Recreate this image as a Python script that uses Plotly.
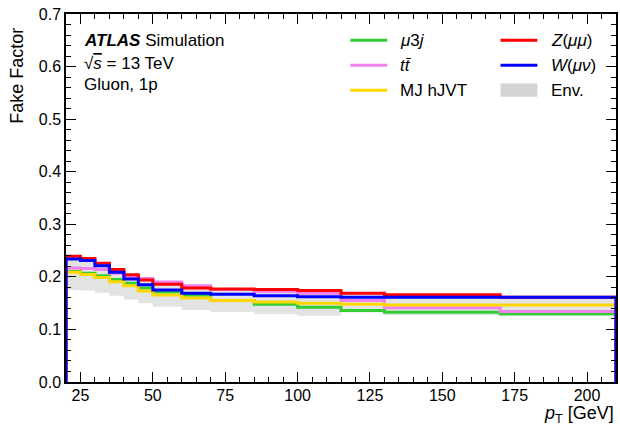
import plotly.graph_objects as go

# pT bin edges [GeV]
bin_edges = [20, 25, 30, 35, 40, 45, 50, 60, 70, 85, 100, 115, 130, 170, 210]

# fake factors per pT bin
ff_mu3j = [0.210, 0.207, 0.202, 0.195, 0.188, 0.179, 0.171, 0.165, 0.155, 0.148, 0.142, 0.136, 0.1325, 0.1295]
ff_ttbar = [0.217, 0.216, 0.214, 0.207, 0.200, 0.197, 0.190, 0.183, 0.176, 0.172, 0.169, 0.155, 0.141, 0.134]
ff_mj_hjvt = [0.209, 0.2045, 0.199, 0.1905, 0.183, 0.173, 0.1655, 0.160, 0.155, 0.152, 0.150, 0.148, 0.1465, 0.1465]
ff_zmumu = [0.239, 0.235, 0.226, 0.214, 0.204, 0.194, 0.186, 0.179, 0.177, 0.176, 0.174, 0.169, 0.166, 0.161]
ff_wmunu = [0.234, 0.231, 0.221, 0.209, 0.196, 0.185, 0.175, 0.169, 0.167, 0.164, 0.162, 0.161, 0.161, 0.161]

# lower edge of the envelope band
env_low = [0.175, 0.174, 0.170, 0.164, 0.157, 0.150, 0.143, 0.137, 0.133, 0.129, 0.126, 0.132, 0.1275, 0.129]

x_ticks = [25, 50, 75, 100, 125, 150, 175, 200]
y_ticks = [0.0, 0.1, 0.2, 0.3, 0.4, 0.5, 0.6, 0.7]

FONT = "Liberation Sans, Arial, Helvetica, sans-serif"


def step_from_zero(edges, vals):
    """Histogram outline (step) that drops to zero at both ends."""
    xs = [edges[0]] + list(edges) + [edges[-1]]
    ys = [0.0] + list(vals) + [vals[-1], 0.0]
    return xs, ys


def step_band(edges, vals):
    xs = list(edges)
    ys = list(vals) + [vals[-1]]
    return xs, ys


env_high = [max(v) for v in zip(ff_mu3j, ff_ttbar, ff_mj_hjvt, ff_zmumu, ff_wmunu)]

fig = go.Figure()

band_color = "rgb(226,227,227)"
xl, yl = step_band(bin_edges, env_low)
xh, yh = step_band(bin_edges, env_high)
fig.add_trace(go.Scatter(x=xl, y=yl, mode="lines", line=dict(width=0, shape="hv"),
                         showlegend=False, hoverinfo="skip"))
fig.add_trace(go.Scatter(x=xh, y=yh, mode="lines", line=dict(width=0, shape="hv"),
                         fill="tonexty", fillcolor=band_color, showlegend=False, hoverinfo="skip"))

series = [
    (ff_mu3j, "rgb(50,205,50)"),
    (ff_ttbar, "rgb(238,130,238)"),
    (ff_mj_hjvt, "rgb(255,215,0)"),
    (ff_zmumu, "rgb(255,0,0)"),
    (ff_wmunu, "rgb(0,0,255)"),
]
for vals, col in series:
    xs, ys = step_from_zero(bin_edges, vals)
    fig.add_trace(go.Scatter(x=xs, y=ys, mode="lines", line=dict(color=col, width=3, shape="hv"),
                             showlegend=False, hoverinfo="skip"))

# legend drawn in paper coordinates (two columns)
legend_rows = [0.929, 0.861, 0.793]
legend_items = [
    ("line", "rgb(50,205,50)", "<i>μ</i>3<i>j</i>", 0, 0),
    ("line", "rgb(238,130,238)", "<i>tt̄</i>", 0, 1),
    ("line", "rgb(255,215,0)", "MJ hJVT", 0, 2),
    ("line", "rgb(255,0,0)", "<i>Z</i>(<i>μμ</i>)", 1, 0),
    ("line", "rgb(0,0,255)", "<i>W</i>(<i>μν</i>)", 1, 1),
    ("box", "rgb(212,212,212)", "Env.", 1, 2),
]
col_x = [(0.517, 0.584, 0.604), (0.790, 0.857, 0.879)]
shapes = []
annotations = []
for kind, col, label, c, r in legend_items:
    x0, x1, xt = col_x[c]
    yy = legend_rows[r]
    if kind == "line":
        shapes.append(dict(type="line", xref="paper", yref="paper", x0=x0, x1=x1, y0=yy, y1=yy,
                           line=dict(color=col, width=3)))
    else:
        shapes.append(dict(type="rect", xref="paper", yref="paper", x0=x0, x1=x1,
                           y0=yy - 0.018, y1=yy + 0.018, line=dict(width=0), fillcolor=col))
    annotations.append(dict(text=label, xref="paper", yref="paper", x=xt, y=yy,
                            xanchor="left", yanchor="middle", showarrow=False,
                            font=dict(size=17, color="black", family=FONT)))

# ATLAS label block
annotations += [
    dict(text="<b><i>ATLAS</i></b> Simulation", xref="paper", yref="paper", x=0.029, y=0.929,
         xanchor="left", yanchor="middle", showarrow=False, font=dict(size=17, color="black", family=FONT)),
    dict(text="√<span style='text-decoration:overline'><i>s</i></span> = 13 TeV", xref="paper", yref="paper",
         x=0.029, y=0.866, xanchor="left", yanchor="middle", showarrow=False,
         font=dict(size=17, color="black", family=FONT)),
    dict(text="Gluon, 1p", xref="paper", yref="paper", x=0.029, y=0.808,
         xanchor="left", yanchor="middle", showarrow=False, font=dict(size=17, color="black", family=FONT)),
    # axis titles
    dict(text="Fake Factor", xref="paper", yref="paper", x=-0.089, y=0.968, textangle=-90,
         xanchor="center", yanchor="top", showarrow=False, font=dict(size=18, color="black", family=FONT)),
    dict(text="<i>p</i><sub>T</sub> [GeV]", xref="paper", yref="paper", x=1.0, y=-0.088,
         xanchor="right", yanchor="middle", showarrow=False, font=dict(size=18, color="black", family=FONT)),
]

axis_common = dict(showline=True, linecolor="black", linewidth=1.5, mirror="allticks",
                   ticks="inside", ticklen=10, tickwidth=1.3, tickcolor="black",
                   showgrid=False, zeroline=False,
                   tickfont=dict(size=16, color="black", family=FONT))

fig.update_xaxes(range=[20, 210], tickvals=x_ticks, ticktext=[str(t) for t in x_ticks],
                 ticklabelstandoff=-2,
                 minor=dict(dtick=5, tick0=0, ticklen=5, ticks="inside", tickcolor="black", tickwidth=1.2),
                 **axis_common)
fig.update_yaxes(range=[0, 0.7], tickvals=y_ticks, ticktext=[f"{t:.1f}" for t in y_ticks],
                 minor=dict(dtick=0.02, tick0=0, ticklen=5, ticks="inside", tickcolor="black", tickwidth=1.2),
                 **axis_common)

fig.update_layout(width=620, height=435, margin=dict(l=66, r=2, t=14, b=53),
                  paper_bgcolor="white", plot_bgcolor="white",
                  shapes=shapes, annotations=annotations, showlegend=False,
                  font=dict(family=FONT, color="black"))

fig.write_html("out.html")
